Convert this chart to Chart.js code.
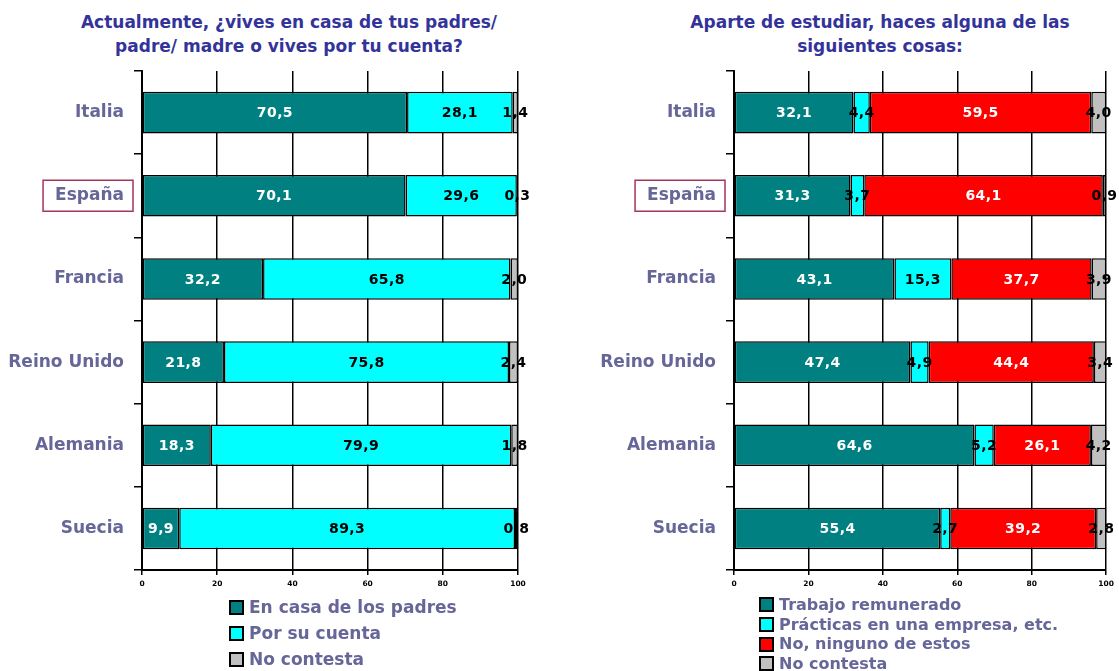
<!DOCTYPE html>
<html>
<head>
<meta charset="utf-8">
<script src="https://cdn.jsdelivr.net/npm/chart.js@4.4.0/dist/chart.umd.min.js"></script>
<style>
body{margin:0;background:#fff;width:1119px;height:671px;overflow:hidden;position:relative;font-family:'DejaVu Sans',sans-serif}
.title{position:absolute;text-align:center;color:#333399;font-weight:bold;font-size:17px;line-height:24px;white-space:nowrap}
.wrap{position:absolute;top:0}
.legend{position:absolute;color:#666699;font-weight:bold;white-space:nowrap}
.legend div{display:flex;align-items:center}
.legend .sw{display:inline-block;width:11px;height:11px;border:2px solid #000;margin-right:5px}
</style>
</head>
<body>
<div class="title" style="left:0;width:578px;top:10px">Actualmente, ¿vives en casa de tus padres/<br>padre/ madre o vives por tu cuenta?</div>
<div class="title" style="left:580px;width:600px;top:10px">Aparte de estudiar, haces alguna de las<br>siguientes cosas:</div>
<div class="wrap" style="left:0"><canvas id="chart1" width="560" height="600"></canvas></div>
<div class="wrap" style="left:560px"><canvas id="chart2" width="559" height="600"></canvas></div>
<div class="legend" id="legend1" style="left:229px;top:594px;font-size:17px;line-height:26px"></div>
<div class="legend" id="legend2" style="left:759px;top:595px;font-size:16px;line-height:19.7px"></div>
<script>
var paises = ['Italia', 'España', 'Francia', 'Reino Unido', 'Alemania', 'Suecia'];
var destacado = 'España';
var xTicks = [0, 20, 40, 60, 80, 100];

// grafico 1: donde vive
var enCasa = [70.5, 70.1, 32.2, 21.8, 18.3, 9.9];
var porSuCuenta = [28.1, 29.6, 65.8, 75.8, 79.9, 89.3];
var noContesta1 = [1.4, 0.3, 2.0, 2.4, 1.8, 0.8];

// grafico 2: ademas de estudiar
var trabajo = [32.1, 31.3, 43.1, 47.4, 64.6, 55.4];
var practicas = [4.4, 3.7, 15.3, 4.9, 5.2, 2.7];
var ninguno = [59.5, 64.1, 37.7, 44.4, 26.1, 39.2];
var noContesta2 = [4.0, 0.9, 3.9, 3.4, 4.2, 2.8];

var series1 = ['En casa de los padres', 'Por su cuenta', 'No contesta'];
var series2 = ['Trabajo remunerado', 'Prácticas en una empresa, etc.', 'No, ninguno de estos', 'No contesta'];

var TEAL = '#008080', CYAN = '#00ffff', RED = '#ff0000', GRIS = '#c0c0c0';

Chart.defaults.font.family = '"DejaVu Sans", sans-serif';

var barLabels = {
	id: 'barLabels',
	afterDatasetsDraw: function(chart) {
		var ctx = chart.ctx;
		ctx.save();
		ctx.font = 'bold 14px "DejaVu Sans"';
		ctx.letterSpacing = '0.4px';
		ctx.textAlign = 'center';
		ctx.textBaseline = 'middle';
		chart.data.datasets.forEach(function(ds, i) {
			var meta = chart.getDatasetMeta(i);
			meta.data.forEach(function(bar, j) {
				ctx.fillStyle = ds.labelColor;
				ctx.fillText(ds.data[j].toFixed(1).replace('.', ','), (bar.x + bar.base) / 2, bar.y + 1);
			});
		});
		ctx.letterSpacing = '0px';
		// recuadro de España
		var y = chart.scales.y;
		var idx = paises.indexOf(destacado);
		var yc = y.getPixelForValue(idx);
		ctx.font = 'bold 17px "DejaVu Sans"';
		var w = ctx.measureText(destacado).width;
		var textRight = y.right - 8 - 10;
		ctx.strokeStyle = '#a3345e';
		ctx.lineWidth = 1.5;
		ctx.strokeRect(textRight - w - 12, yc - 15.5, w + 21, 31);
		ctx.restore();
	}
};

function makeOptions(yWidth, padRight) {
	return {
		indexAxis: 'y',
		responsive: false,
		animation: false,
		layout: { padding: { top: 71, right: padRight, left: 0, bottom: 0 } },
		plugins: { legend: { display: false }, tooltip: { enabled: false } },
		scales: {
			x: {
				stacked: true,
				min: 0,
				max: 100,
				afterBuildTicks: function(scale) {
					scale.ticks = xTicks.map(function(v) { return { value: v }; });
				},
				afterFit: function(scale) { scale.height = 30; },
				grid: { color: '#000', lineWidth: 1.5, tickLength: 5 },
				border: { color: '#000', width: 2 },
				ticks: { color: '#000', font: { size: 7.5, weight: 'bold' }, padding: 5, maxRotation: 0 }
			},
			y: {
				stacked: true,
				afterFit: function(scale) { scale.width = yWidth; },
				grid: { drawOnChartArea: false, color: '#000', lineWidth: 1.5, tickLength: 8 },
				border: { color: '#000', width: 2 },
				ticks: { color: '#666699', font: { size: 17, weight: 'bold' }, padding: 10 }
			}
		}
	};
}

function ds(label, data, color, labelColor) {
	return {
		label: label,
		data: data,
		backgroundColor: color,
		borderColor: '#000',
		borderWidth: 1.5,
		borderSkipped: false,
		barPercentage: 0.5,
		categoryPercentage: 1,
		labelColor: labelColor
	};
}

var chart1 = new Chart(document.getElementById('chart1'), {
	type: 'bar',
	data: {
		labels: paises,
		datasets: [
			ds(series1[0], enCasa, TEAL, '#fff'),
			ds(series1[1], porSuCuenta, CYAN, '#000'),
			ds(series1[2], noContesta1, GRIS, '#000')
		]
	},
	options: makeOptions(142, 42),
	plugins: [barLabels]
});

var chart2 = new Chart(document.getElementById('chart2'), {
	type: 'bar',
	data: {
		labels: paises,
		datasets: [
			ds(series2[0], trabajo, TEAL, '#fff'),
			ds(series2[1], practicas, CYAN, '#000'),
			ds(series2[2], ninguno, RED, '#fff'),
			ds(series2[3], noContesta2, GRIS, '#000')
		]
	},
	options: makeOptions(174, 9),
	plugins: [barLabels]
});

function makeLegend(id, chart) {
	var html = '';
	chart.data.datasets.forEach(function(d) {
		html += '<div><span class="sw" style="background:' + d.backgroundColor + '"></span>' + d.label + '</div>';
	});
	document.getElementById(id).innerHTML = html;
}
makeLegend('legend1', chart1);
makeLegend('legend2', chart2);
</script>
</body>
</html>
